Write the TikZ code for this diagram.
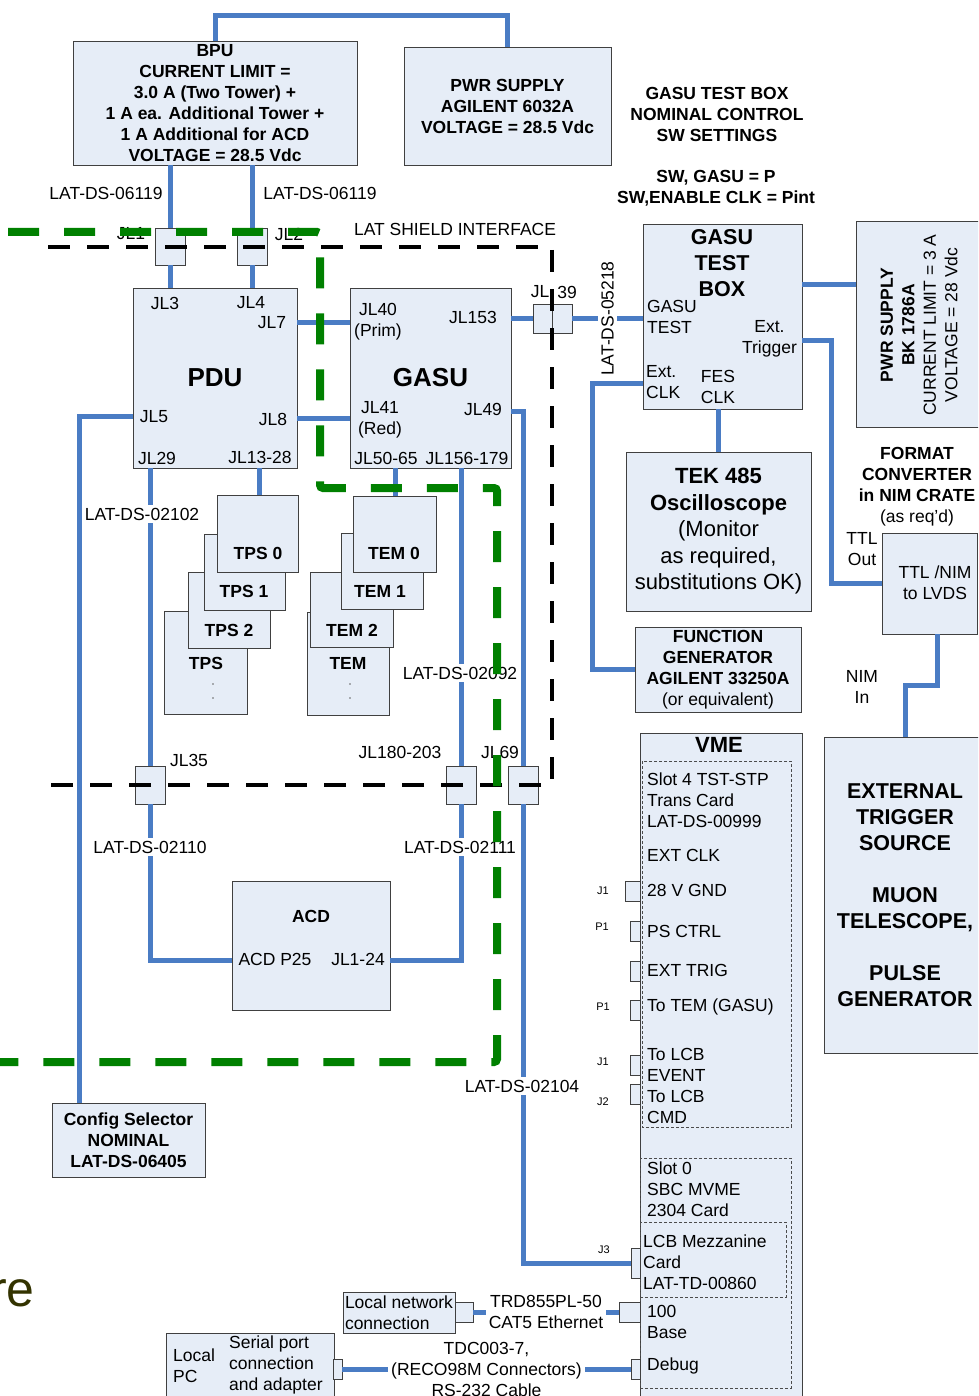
\documentclass[tikz,border=0pt]{standalone}
\usepackage{fontspec}
\setmainfont{Liberation Sans}
\usepackage{tikz}
\definecolor{boxfill}{HTML}{E6EDF7}
\definecolor{cablecol}{HTML}{4A7CC4}
\definecolor{shieldgreen}{HTML}{008000}
\definecolor{titlecol}{HTML}{333300}
\tikzset{
  unit/.style={draw=black!75, fill=boxfill, line width=0.9pt, inner sep=0pt, align=center},
  port/.style={draw=black!75, fill=boxfill, line width=0.8pt, inner sep=0pt},
  cable/.style={draw=cablecol, line width=5pt},
  shield/.style={draw=shieldgreen, line width=8pt, dash pattern=on 31pt off 25pt, rounded corners=3pt},
  latline/.style={draw=black, line width=3.5pt, dash pattern=on 22pt off 17pt},
  slotline/.style={draw=black!70, line width=0.6pt, dash pattern=on 3pt off 2pt},
  lbl/.style={font=\fontsize{17.5}{21}\selectfont, inner sep=0pt, align=center},
  blbl/.style={font=\fontsize{17.5}{21}\selectfont\bfseries, inner sep=0pt, align=center},
  cablelbl/.style={lbl, fill=white, inner sep=3pt},
  pinlbl/.style={font=\fontsize{11}{13}\selectfont, inner sep=0pt},
  headlbl/.style={font=\fontsize{26}{30}\selectfont\bfseries, inner sep=0pt}
}
\begin{document}
\begin{tikzpicture}[x=1pt, y=-1pt]
\clip (0,0) rectangle (978,1396);
\fill[white] (0,0) rectangle (978,1396);

% supplies on top
\node[unit, blbl, minimum width=284pt, minimum height=124pt] (bpu) at (215,103)
  {BPU\\CURRENT LIMIT =\\3.0 A (Two Tower) +\\1 A ea. Additional Tower +\\1 A Additional for ACD\\VOLTAGE = 28.5 Vdc};
\node[unit, blbl, minimum width=207pt, minimum height=118pt] (agilent) at (507.5,106)
  {PWR SUPPLY\\AGILENT 6032A\\VOLTAGE = 28.5 Vdc};
\node[blbl] (swhead) at (717,114) {GASU TEST BOX\\NOMINAL CONTROL\\SW SETTINGS};
\node[blbl] (swset) at (716,188.5) {SW, GASU = P\\SW,ENABLE CLK = Pint};

% LAT boxes
\node[unit, headlbl, minimum width=164pt, minimum height=180pt] (pdu) at (215,378) {PDU};
\node[unit, headlbl, minimum width=161pt, minimum height=180pt] (gasu) at (430.5,378) {GASU};
\node[lbl] (pjl3) at (165,303) {JL3};
\node[lbl] (pjl4) at (251,303) {JL4};
\node[lbl] (pjl7) at (272,323) {JL7};
\node[lbl] (pjl5) at (154,417) {JL5};
\node[lbl] (pjl8) at (273,419) {JL8};
\node[lbl] (pjl29) at (157,458) {JL29};
\node[lbl] (pjl13) at (260,457) {JL13-28};
\node[lbl] (gjl40) at (378,322) {JL40\\(Prim)};
\node[lbl] (gjl153) at (473,317) {JL153};
\node[lbl] (gjl41) at (380,419.5) {JL41\\(Red)};
\node[lbl] (gjl49) at (483,409) {JL49};
\node[lbl] (gjl50) at (386,458) {JL50-65};
\node[lbl] (gjl156) at (467,458) {JL156-179};

% shield connectors
\node[port, minimum width=30pt, minimum height=37pt] (jla) at (170,246.5) {};
\node[port, minimum width=30pt, minimum height=37pt] (jlb) at (252,246.5) {};
\node[lbl] (ljl1) at (131,234) {JL1};
\node[lbl] (ljl2) at (289,234) {JL2};
\node[port, minimum width=19pt, minimum height=29pt] (jlc) at (542.5,318.5) {};
\node[port, minimum width=20pt, minimum height=29pt] (jld) at (562,318.5) {};
\node[lbl] (ljl39a) at (540,292) {JL};
\node[lbl] (ljl39b) at (567,292) {39};
\node[port, minimum width=30pt, minimum height=38pt] (jle) at (150,785) {};
\node[port, minimum width=30pt, minimum height=38pt] (jlf) at (461,785) {};
\node[port, minimum width=30pt, minimum height=38pt] (jlg) at (523,785) {};
\node[lbl] (ljl35) at (189,760) {JL35};
\node[lbl] (ljl180) at (400,752) {JL180-203};
\node[lbl] (ljl69) at (500,752) {JL69};

% TPS and TEM stacks
\node[unit, minimum width=83pt, minimum height=103pt] (tpsn) at (205.5,662.5) {};
\node[unit, minimum width=82pt, minimum height=76pt] (tpstwo) at (229,610) {};
\node[unit, minimum width=81pt, minimum height=76pt] (tpsone) at (244.5,572) {};
\node[unit, minimum width=81pt, minimum height=77pt] (tpszero) at (257.5,533.5) {};
\node[blbl] (ttpszero) at (258,553) {TPS 0};
\node[blbl] (ttpsone) at (244,591) {TPS 1};
\node[blbl] (ttpstwo) at (229,630) {TPS 2};
\node[blbl] (ttpsn) at (206,663) {TPS};
\fill[black!60] (213,684) circle (0.9pt) (213,698) circle (0.9pt);
\node[unit, minimum width=82pt, minimum height=103pt] (temn) at (348,663.5) {};
\node[unit, minimum width=83pt, minimum height=75pt] (temtwo) at (351.5,609.5) {};
\node[unit, minimum width=82pt, minimum height=76pt] (temone) at (382,571) {};
\node[unit, minimum width=83pt, minimum height=76pt] (temzero) at (394.5,534) {};
\node[blbl] (ttemzero) at (394,553) {TEM 0};
\node[blbl] (ttemone) at (380,591) {TEM 1};
\node[blbl] (ttemtwo) at (352,630) {TEM 2};
\node[blbl] (ttemn) at (348,663) {TEM};
\fill[black!60] (350,684) circle (0.9pt) (350,698) circle (0.9pt);

% ACD and config
\node[unit, minimum width=158pt, minimum height=129pt] (acd) at (311,945.5) {};
\node[blbl] (tacd) at (311,916) {ACD};
\node[lbl] (acdp) at (275,959) {ACD P25};
\node[lbl] (acdjl) at (358,959) {JL1-24};
\node[unit, blbl, minimum width=153pt, minimum height=74pt] (config) at (128.5,1140)
  {Config Selector\\NOMINAL\\LAT-DS-06405};

% test equipment
\node[unit, minimum width=159pt, minimum height=185pt] (gtb) at (722.5,316.5) {};
\node[font=\fontsize{21.5}{26}\selectfont\bfseries, inner sep=0pt, align=center] (tgtb) at (722,263) {GASU\\TEST\\BOX};
\node[lbl, align=left, anchor=west] (tgtest) at (647,317) {GASU\\TEST};
\node[lbl] (textrig) at (769.5,339) {Ext.\\Trigger};
\node[lbl, align=left, anchor=west] (textclk) at (646,382.5) {Ext.\\CLK};
\node[lbl] (tfes) at (718,386.5) {FES\\CLK};
\node[unit, minimum width=130pt, minimum height=206pt] (bk) at (921,324) {};
\node[lbl, rotate=90, font=\fontsize{17.5}{21.5}\selectfont] (tbk) at (919,325)
  {\textbf{PWR SUPPLY}\\\textbf{BK 1786A}\\CURRENT LIMIT = 3 A\\VOLTAGE = 28 Vdc};
\node[unit, minimum width=185pt, minimum height=159pt, font=\fontsize{22}{26.5}\selectfont] (tek) at (718.5,531.5)
  {\textbf{TEK 485}\\\textbf{Oscilloscope}\\(Monitor\\as required,\\substitutions OK)};
\node[unit, lbl, minimum width=166pt, minimum height=85pt] (fgen) at (718,669.5)
  {\textbf{FUNCTION}\\\textbf{GENERATOR}\\\textbf{AGILENT 33250A}\\(or equivalent)};
\node[lbl] (tfmt) at (917,487) {\textbf{FORMAT}\\\textbf{CONVERTER}\\\textbf{in NIM CRATE}\\(as req’d)};
\node[unit, minimum width=95pt, minimum height=101pt] (ttlnim) at (929.5,583.5) {};
\node[lbl] (tttl) at (935,582.5) {TTL /NIM\\to LVDS};
\node[lbl] (tout) at (862,549) {TTL\\Out};
\node[lbl] (tnimin) at (862,686.5) {NIM\\In};
\node[unit, minimum width=162pt, minimum height=316pt, font=\fontsize{21.5}{26}\selectfont\bfseries] (ext) at (905,895)
  {EXTERNAL\\TRIGGER\\SOURCE\\[26pt]MUON\\TELESCOPE,\\[26pt]PULSE\\GENERATOR};

% VME crate
\node[unit, minimum width=162pt, minimum height=680pt, anchor=north] (vme) at (721,733) {};
\node[font=\fontsize{22}{26}\selectfont\bfseries, inner sep=0pt] (tvme) at (719,745) {VME};
\draw[slotline] (642,761) rectangle (791,1127);
\draw[slotline] (640,1158) rectangle (791,1388);
\draw[slotline] (640,1222) rectangle (786,1297);
\node[lbl, align=left, anchor=west] (vsfour) at (647,800) {Slot 4 TST-STP\\Trans Card\\LAT-DS-00999};
\node[lbl, anchor=west] (vclk) at (647,855) {EXT CLK};
\node[lbl, anchor=west] (vgnd) at (647,890) {28 V GND};
\node[lbl, anchor=west] (vps) at (647,931) {PS CTRL};
\node[lbl, anchor=west] (vtrig) at (647,970) {EXT TRIG};
\node[lbl, anchor=west] (vtem) at (647,1007) {To TEM (GASU)};
\node[lbl, align=left, anchor=west] (vev) at (647,1064.5) {To LCB\\EVENT};
\node[lbl, align=left, anchor=west] (vcmd) at (647,1106.5) {To LCB\\CMD};
\node[lbl, align=left, anchor=west] (vszero) at (647,1189) {Slot 0\\SBC MVME\\2304 Card};
\node[lbl, align=left, anchor=west] (vlcb) at (643,1262) {LCB Mezzanine\\Card\\LAT-TD-00860};
\node[lbl, align=left, anchor=west] (vbase) at (647,1322) {100\\Base};
\node[lbl, anchor=west] (vdbg) at (647,1366) {Debug};
\node[port, minimum width=15pt, minimum height=20pt] (pjone) at (632.5,891) {};
\node[port, minimum width=10pt, minimum height=20pt] (ppone) at (635,931) {};
\node[port, minimum width=10pt, minimum height=20pt] (ptrig) at (635,971) {};
\node[port, minimum width=10pt, minimum height=20pt] (ptem) at (635,1010) {};
\node[port, minimum width=10pt, minimum height=20pt] (pev) at (635,1065) {};
\node[port, minimum width=10pt, minimum height=20pt] (pcmd) at (635,1094) {};
\node[port, minimum width=9pt, minimum height=30pt] (jthree) at (635.5,1263) {};
\node[port, minimum width=21pt, minimum height=20pt] (baseport) at (629.5,1312) {};
\node[port, minimum width=9pt, minimum height=20pt] (dbgport) at (635.5,1369.5) {};
\node[pinlbl] (lpj1) at (603,891) {J1};
\node[pinlbl] (lpp1) at (602,927) {P1};
\node[pinlbl] (lpp1b) at (603,1007) {P1};
\node[pinlbl] (lpj1b) at (603,1062) {J1};
\node[pinlbl] (lpj2) at (603,1102) {J2};
\node[pinlbl] (lj3) at (604,1250) {J3};

% local computers
\node[unit, lbl, align=left, minimum width=112pt, minimum height=41pt] (lnet) at (399,1312.5) {Local network\\connection};
\node[port, minimum width=18pt, minimum height=20pt] (lnetport) at (464,1312) {};
\node[unit, minimum width=168pt, minimum height=77pt] (lpc) at (250,1371.5) {};
\node[lbl, align=left, anchor=west] (tlocal) at (173,1366) {Local\\PC};
\node[lbl, align=left, anchor=west] (tserial) at (229,1365) {Serial port\\connection\\and adapter};
\node[port, minimum width=9pt, minimum height=20pt] (pcport) at (337.5,1369.5) {};
\node[font=\fontsize{50}{50}\selectfont, text=titlecol, anchor=east, inner sep=0pt] (titlefrag) at (35,1293) {re};

% cables
\draw[cable] (bpu.north) -- ++(0,-25) -| (agilent.north);
\draw[cable] (bpu.south -| jla.north) -- (jla.north);
\draw[cable] (jla.south) -- (pdu.north -| jla.south);
\draw[cable] (bpu.south -| jlb.north) -- (jlb.north);
\draw[cable] (jlb.south) -- (pdu.north -| jlb.south);
\draw[cable] (pdu.east |- 0,322) -- (gasu.west |- 0,322);
\draw[cable] (pdu.east |- 0,418) -- (gasu.west |- 0,418);
\draw[cable] (pdu.west |- 0,416) -| (config.north -| 79,0);
\draw[cable] (pdu.south -| jle.north) -- (jle.north);
\draw[cable] (jle.south) |- (acd.west |- 0,960);
\draw[cable] (pdu.south -| 259,0) -- (tpszero.north -| 259,0);
\draw[cable] (gasu.south -| 395,0) -- (temzero.north -| 395,0);
\draw[cable] (gasu.south -| jlf.north) -- (jlf.north);
\draw[cable] (jlf.south) |- (acd.east |- 0,960);
\draw[cable] (gasu.east |- 0,411) -| (jlg.north);
\draw[cable] (jlg.south) |- (jthree.west);
\draw[cable] (gasu.east |- jlc.west) -- (jlc.west);
\draw[cable] (jld.east) -- node[cablelbl, rotate=90] (dsfivetwo) {LAT-DS-05218} (gtb.west |- jld.east);
\draw[cable] (gtb.east |- 0,285) -- (bk.west |- 0,285);
\draw[cable] (gtb.east |- 0,340) -- ++(29,0) |- (ttlnim.west |- 0,583);
\draw[cable] (gtb.west |- 0,383) -- ++(-50,0) |- (fgen.west);
\draw[cable] (tek.north |- gtb.south) -- (tek.north);
\draw[cable] (ttlnim.south -| 937,0) -- ++(0,51) -| (ext.north);
\draw[cable] (lnetport.east) -- node[cablelbl] (trd) {TRD855PL-50\\CAT5 Ethernet} (baseport.west);
\draw[cable] (pcport.east) -- node[cablelbl] (tdc) {TDC003-7,\\(RECO98M Connectors)\\RS-232 Cable} (dbgport.west);

% cable labels
\node[lbl] (dsbpua) at (106,193) {LAT-DS-06119};
\node[lbl] (dsbpub) at (320,193) {LAT-DS-06119};
\node[lbl] (shieldlbl) at (455,229) {LAT SHIELD INTERFACE};
\node[cablelbl] (dstps) at (142,514) {LAT-DS-02102};
\node[cablelbl] (dstem) at (460,673) {LAT-DS-02092};
\node[cablelbl] (dsacda) at (150,847) {LAT-DS-02110};
\node[cablelbl] (dsacdb) at (460,847) {LAT-DS-02111};
\node[cablelbl] (dsvme) at (522,1086) {LAT-DS-02104};

% LAT shield interface and green boundary
\draw[latline] (48,247) -- (552,247) -- (552,785) -- (48,785);
\draw[shield] (8,232) -- (320,232) -- (320,488) -- (497,488) -- (497,1062) -- (-10,1062);
\end{tikzpicture}
\end{document}
